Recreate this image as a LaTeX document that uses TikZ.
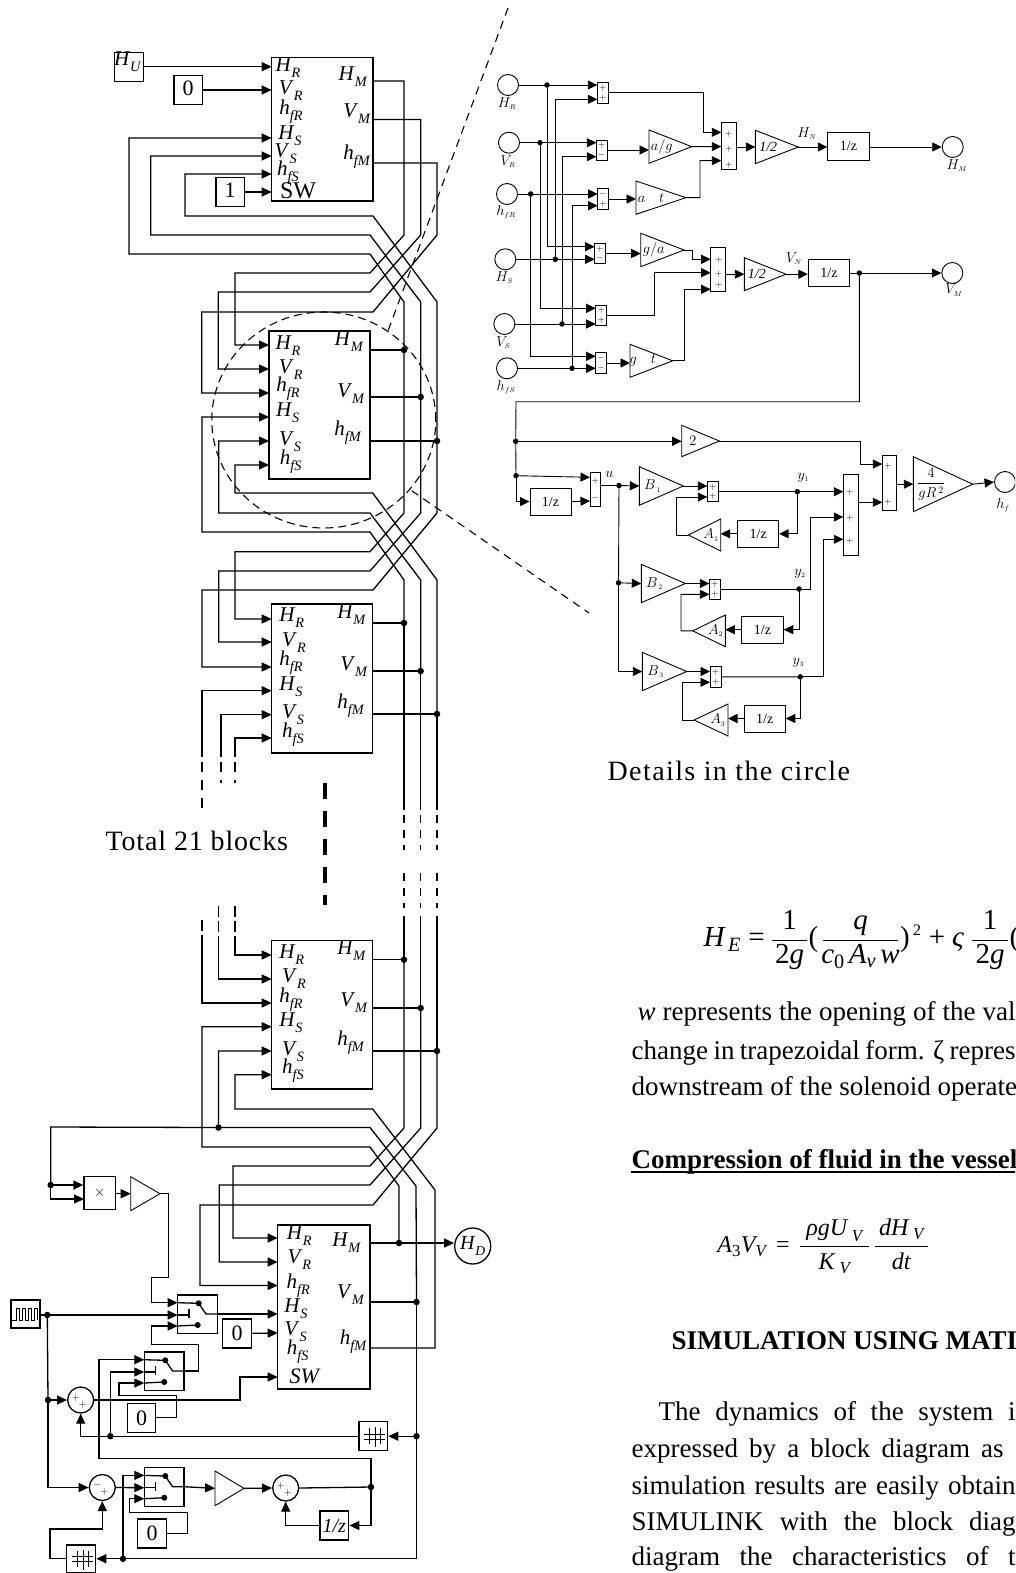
\documentclass[tikz,border=0pt]{standalone}
\usepackage{amsmath}
\usepackage[no-math]{fontspec}
\setmainfont{Liberation Serif}
\usetikzlibrary{arrows.meta,calc,shapes.geometric}
% port labels of the large blocks
\newcommand{\pv}[2]{\textit{#1}\raisebox{-.28em}{\scalebox{.68}{\textit{#2}}}}
\newcommand{\labhr}{\pv{H}{R}}
\newcommand{\labvr}{\pv{V}{R}}
\newcommand{\labhfr}{\pv{h}{fR}}
\newcommand{\labhs}{\pv{H}{S}}
\newcommand{\labvs}{\pv{V}{S}}
\newcommand{\labhfs}{\pv{h}{fS}}
\newcommand{\labhm}{\pv{H}{M}}
\newcommand{\labvm}{\pv{V}{M}}
\newcommand{\labhfm}{\pv{h}{fM}}
\newcommand{\ssub}[2]{$#1_{\scriptscriptstyle #2}$}
\newcommand{\fb}[3]{$\dfrac{\makebox[#1pt]{#2}}{\makebox[#1pt]{#3}}$}
\newcommand{\bx}[6]{\node[blk,minimum width={(#4-#2)*1pt},minimum height={(#5-#3)*1pt}] (#1) at ({(#2+#4)/2},{(#3+#5)/2}) {#6};}
\newcommand{\ports}[3]{\foreach \n/\py in {#3}{\coordinate (#1\n) at (#2,\py);}}
\newcommand{\blocklabels}[2]{\foreach \n/\px/\py in {#2}{\node[blab] (#1l\n) at (\px,\py) {\csname lab\n\endcsname};}}
% triangle gain: base x, apex x, top y, bottom y
\newcommand{\gain}[6]{\draw[dblk] (#2,#4) -- (#3,{(#4+#5)/2}) coordinate (#1-o) -- (#2,#5) -- cycle;
  \coordinate (#1-i) at (#2,{(#4+#5)/2});
  \node[dlab] (#1-t) at ({#2+.3*(#3-#2)},{(#4+#5)/2}) {#6};}
% narrow summing block with two inputs
\newcommand{\tsum}[9]{\node[dblk,minimum width={(#4-#2)*1pt},minimum height={(#5-#3)*1pt}] (#1) at ({(#2+#4)/2},{(#3+#5)/2}) {};
  \coordinate (#1-u) at (#2,#6); \coordinate (#1-d) at (#2,#7);
  \coordinate (#1-o) at (#4,{(#3+#5)/2});
  \node[sgn] (#1-su) at ({(#2+#4)/2},{#3+.27*(#5-#3)}) {$#8$};
  \node[sgn] (#1-sd) at ({(#2+#4)/2},{#3+.75*(#5-#3)}) {$#9$};}
% switch block
\newcommand{\swbox}[3]{\bx{#1}{#2}{#3}{#2+39.8}{#3+38.6}{}
  \coordinate (#1-a) at (#2,#3+7.7); \coordinate (#1-b) at (#2,#3+20); \coordinate (#1-c) at (#2,#3+31);
  \coordinate (#1-o) at (#2+39.8,#3+19);
  \node[dot,minimum size=6pt] (#1-p) at (#2+21,#3+8.3) {};
  \node[dot,minimum size=6pt] (#1-q) at (#2+20,#3+30) {};
  \coordinate (#1-r) at (#2+28.3,#3+19); \coordinate (#1-m) at (#2+11.3,#3+20);
  \coordinate (#1-n) at (#2+11.3,#3+14); \coordinate (#1-k) at (#2+11.3,#3+23);
  \draw (#1-a) -- (#1-p.center) -- (#1-r) -- (#1-o);
  \draw (#1-b) -- (#1-m); \draw (#1-n) -- (#1-k);
  \draw (#1-c) -- (#1-q.center);}
% round adder
\newcommand{\scirc}[5]{\node[blk,circle,minimum size=26pt] (#1) at (#2,#3) {};
  \node[sgn,font=\fontsize{10}{10}\selectfont] (#1-su) at (#2-5,#3-2.5) {$#4$};
  \node[sgn,font=\fontsize{10}{10}\selectfont] (#1-sd) at (#2+2,#3+4.5) {$#5$};}
\newcommand{\memgrid}[1]{\draw[line width=.8pt] ([shift={(-9,-2)}]#1.center) -- ([shift={(12,-2)}]#1.center);
  \draw[line width=.8pt] ([shift={(-9,3)}]#1.center) -- ([shift={(12,3)}]#1.center);
  \draw[line width=.8pt] ([shift={(-4,-8)}]#1.center) -- ([shift={(-4,8)}]#1.center);
  \draw[line width=.8pt] ([shift={(2,-9)}]#1.center) -- ([shift={(2,11)}]#1.center);
  \draw[line width=.8pt] ([shift={(7,-8)}]#1.center) -- ([shift={(7,8)}]#1.center);}
\begin{document}
\begin{tikzpicture}[x=1pt,y=-1pt,line width=1.3pt,
    sig/.style={-{Triangle[length=10pt,width=9pt]},line width=1.3pt},
    dsig/.style={-{Triangle[length=9.5pt,width=9pt]},line width=.9pt},
    dwire/.style={line width=.9pt},
    blk/.style={draw,inner sep=0pt,line width=1.3pt,font=\fontsize{22}{22}\selectfont},
    dblk/.style={draw,inner sep=0pt,line width=.9pt},
    dot/.style={circle,fill=black,inner sep=0pt,minimum size=6.5pt},
    ddot/.style={circle,fill=black,inner sep=0pt,minimum size=5.5pt},
    brk/.style={dash pattern=on 8pt off 7pt},
    zoomline/.style={dash pattern=on 8pt off 6pt,line width=1.1pt},
    blab/.style={inner sep=0pt,font=\fontsize{21}{21}\selectfont},
    dlab/.style={inner sep=0pt,font=\fontsize{14}{14}\selectfont},
    zlab/.style={dlab},
    sgn/.style={inner sep=0pt,font=\fontsize{9}{9}\selectfont},
    io/.style={draw,circle,inner sep=0pt,minimum size=21pt,line width=.9pt},
    body/.style={anchor=base west,inner sep=0pt,font=\fontsize{27}{30}\selectfont},
    captext/.style={anchor=west,inner sep=0pt,font=\fontsize{28}{30}\selectfont},
    eqp/.style={anchor=base,inner sep=0pt,font=\fontsize{29}{32}\selectfont},
    eqq/.style={anchor=base,inner sep=0pt,font=\fontsize{24}{26}\selectfont}]
  \useasboundingbox (0,0) rectangle (1015,1573);
  \clip (0,0) rectangle (1015,1573);

  % large blocks
  \bx{b1}{271.7}{57.7}{373}{201}{}
  \bx{b2}{269}{331}{370}{479}{}
  \bx{b3}{271.7}{604}{372.7}{753}{}
  \bx{b4}{271.7}{940.7}{372.7}{1089}{}
  \bx{b5}{277.7}{1225}{370}{1389}{}
  \ports{b1}{271.7}{hr/66.7,vr/90,hs/138,vs/156,hfs/174,sw/192}
  \ports{b1}{373}{hm/81,vm/119.5,hfm/163}
  \ports{b2}{269}{hr/345,vr/369,hfr/393,hs/417,vs/441,hfs/465}
  \ports{b2}{370}{hm/350,vm/397,hfm/441}
  \ports{b3}{271.7}{hr/619,vr/642,hfr/667,hs/690.7,vs/714.7,hfs/738}
  \ports{b3}{372.7}{hm/623,vm/671,hfm/714}
  \ports{b4}{271.7}{hr/955,vr/979,hfr/1003,hs/1026.7,vs/1051,hfs/1074.7}
  \ports{b4}{372.7}{hm/959.7,vm/1008,hfm/1051}
  \ports{b5}{277.7}{hr/1238,vr/1262,hfr/1285.5,hs/1314,vs/1333,sw/1377}
  \ports{b5}{370}{hm/1243,vm/1302,hfm/1348}
  \blocklabels{b1}{hr/288/68,vr/290.7/90.7,hfr/291/112,hs/290/136,vs/285.7/153.5,hfs/288/172.5,hm/353/77,vm/357/114,hfm/357/156.7}
  \blocklabels{b2}{hr/288/346,vr/290.7/370,hfr/288/389,hs/287.7/412.7,vs/290/441.7,hfs/290.7/461.7,hm/349/341.7,vm/351/394,hfm/348/432.7}
  \blocklabels{b3}{hr/291.7/618,vr/294/642.7,hfr/291/662.7,hs/291/687,vs/293/715,hfs/293/735,hm/351.7/615,vm/354/666.7,hfm/351/706}
  \blocklabels{b4}{hr/291.7/955,vr/294/979,hfr/291/999.3,hs/291/1022.7,vs/293/1051.7,hfs/293/1070.7,hm/351.7/951,vm/354/1002.7,hfm/351/1042.7}
  \blocklabels{b5}{hr/299.3/1235.7,vr/299.3/1260,hfr/298.3/1285.7,hs/296/1308.3,vs/295.7/1331.7,hfs/297.7/1351.7,hm/346.7/1242.7,vm/350.7/1295,hfm/353.3/1341.7}
  \node[inner sep=0pt,font=\fontsize{24}{24}\selectfont] (b1lsw) at (298,190.7) {SW};
  \node[blab,font=\fontsize{22}{22}\selectfont\itshape] (b5lsw) at (304.3,1376) {SW};

  % sources of the first block
  \bx{hu}{114.7}{52.2}{143.3}{81.2}{}
  \node[blab] (hut) at (127.7,61.7) {\pv{H}{U}};
  \bx{zero0}{174}{75.5}{202.3}{104.5}{\raisebox{3pt}{0}}
  \bx{one}{216}{177.5}{244.3}{206.5}{\raisebox{3pt}{1}}
  \draw[sig] (hu) -- (b1hr);
  \draw[sig] (zero0) -- (b1vr);
  \draw[sig] (one) -- (b1sw);

  % dots on the three buses
  \foreach \b/\a/\c/\d in {2/350/397/441,3/623/671/714,4/959.7/1008/1051}{
    \node[dot] (d\b hm) at (404,\a) {};
    \node[dot] (d\b vm) at (420.7,\c) {};
    \node[dot] (d\b hfm) at (437,\d) {};
    \draw (b\b hm) -- (d\b hm.center);
    \draw (b\b vm) -- (d\b vm.center);
    \draw (b\b hfm) -- (d\b hfm.center);
  }
  % first block to second
  \draw[sig] (b1hm) -| (404,235) -- (370,273) -- (235,273) |- (b2hr);
  \draw[sig] (b1vm) -| (420.7,235) -- (370,292) -- (218.3,292) |- (b2vr);
  \draw[sig] (b1hfm) -| (437,235) -- (373,312) -- (201.7,312) |- (b2hfr);
  \draw[sig] (d2hm.center) -- (404,302) -- (370,254) -- (129,254) |- (b1hs);
  \draw[sig] (d2vm.center) -- (420.7,302) -- (370,235) -- (150.7,235) |- (b1vs);
  \draw[sig] (d2hfm.center) -- (437,302) -- (373,216) -- (185,216) |- (b1hfs);
  % second block to third
  \draw[sig] (d2hm.center) -- (404,513) -- (370,551.7) -- (235,551.7) |- (b3hr);
  \draw[sig] (d2vm.center) -- (420.7,513) -- (370,571) -- (218.7,571) |- (b3vr);
  \draw[sig] (d2hfm.center) -- (437,513) -- (373,590) -- (202,590) |- (b3hfr);
  \draw[sig] (d3hm.center) -- (404,580) -- (370,532) -- (202,532) |- (b2hs);
  \draw[sig] (d3vm.center) -- (420.7,580) -- (370,513) -- (218.7,513) |- (b2vs);
  \draw[sig] (d3hfm.center) -- (437,580) -- (372.7,493) -- (235,493) |- (b2hfs);
  % the break between the third and fourth block
  \foreach \n/\x in {hm/404,vm/420.7,hfm/437}{
    \coordinate (e\n) at (\x,810); \coordinate (f\n) at (\x,815);
    \coordinate (g\n) at (\x,850); \coordinate (k\n) at (\x,873);
    \coordinate (l\n) at (\x,908); \coordinate (m\n) at (\x,916);
    \draw (d3\n.center) -- (e\n);
    \draw[brk] (f\n) -- (g\n);
    \draw[brk] (k\n) -- (l\n);
    \draw (m\n) -- (d4\n.center);
  }
  \foreach \n/\x/\ya/\yb in {hs/202/757/812,vs/221/757/783,hfs/235/757/783}{
    \coordinate (u\n) at (\x,\ya); \coordinate (w\n) at (\x,\ya+5); \coordinate (t\n) at (\x,\yb);
    \draw[sig] (u\n) |- (b3\n);
    \draw[dash pattern=on 10pt off 8pt] (w\n) -- (t\n);
  }
  \foreach \n/\x/\ya/\yb in {hr/235/906/945,vr/218.7/906/945,hfr/202/920/945}{
    \coordinate (u\n) at (\x,\yb); \coordinate (t\n) at (\x,\ya);
    \draw[sig] (u\n) |- (b4\n);
    \draw[dash pattern=on 11pt off 4pt] (t\n) -- (u\n);
  }
  \coordinate (tot1) at (325,783);
  \coordinate (tot2) at (325,905);
  \draw[dash pattern=on 16pt off 12pt,line width=3.2pt] (tot1) -- (tot2);
  \node[captext] (totlab) at (105,840.5) {\addfontfeature{LetterSpace=3}Total 21 blocks};

  % fourth block to the last one
  \node[dot] (dvs) at (218.5,1127.5) {};
  \node[dot] (d5hm) at (399,1243) {};
  \node[dot] (d5vm) at (416.5,1302) {};
  \draw[sig] (d4hm.center) -- (404,1128) -- (370,1166) -- (233,1166) |- (b5hr);
  \draw[sig] (d4vm.center) -- (420.7,1128) -- (370,1185) -- (219.3,1185) |- (b5vr);
  \draw[sig] (d4hfm.center) -- (437,1128) -- (373,1205) -- (200,1205) |- (b5hfr);
  \draw[sig] (d5hm.center) -- (399,1186) -- (370,1147) -- (202,1147) |- (b4hs);
  \draw[sig] (d5vm.center) -- (416,1186) -- (370,1127.5) -- (dvs.center) |- (b4vs);
  \draw[sig] (b5hfm) -- (435,1348) -- (435,1190) -- (372.7,1109) -- (235,1109) |- (b4hfs);
  \draw (b5vm) -- (d5vm.center);
  \draw (b5hm) -- (d5hm.center);
  \node[blk,circle,minimum size=36pt] (hd) at (472.7,1246) {\fontsize{20}{20}\selectfont\pv{H}{D}};
  \draw[sig] (d5hm.center) -- (hd.west |- d5hm);

  % control logic under the last block
  \node[dot] (dprod) at (50.7,1185) {};
  \bx{prod}{84}{1176.7}{115.3}{1209.3}{\fontsize{15}{15}\selectfont$\times$}
  \gain{gprod}{130.7}{160}{1176.7}{1210.7}{}
  \draw (dvs.center) -- (50.7,1127) -- (dprod.center);
  \draw[sig] (dprod.center) -- (prod.west |- dprod);
  \draw[sig] (dprod.center) |- (84,1199);
  \draw[sig] (prod.east |- gprod-i) -- (gprod-i);
  \swbox{sw1}{177.7}{1295}
  \swbox{sw2}{144.3}{1352}
  \swbox{sw3}{144.3}{1467.7}
  \draw[sig] (gprod-o) -- (168.3,1193.7) -- (168.3,1277.7) -- (151.7,1277.7) |- (sw1-a);
  \draw[sig] (sw1-o) -- (b5hs);
  \bx{zero1}{222.7}{1319}{251.7}{1348}{0}
  \draw[sig] (zero1) -- (b5vs);
  % pulse source
  \bx{pulse}{11}{1300}{40}{1328}{}
  \draw[line width=.9pt] (12,1320) -- (16,1320) -- (16,1308) -- (19,1308) -- (19,1320) -- (22,1320) -- (22,1308) -- (25,1308) -- (25,1320) -- (28,1320) -- (28,1308) -- (31,1308) -- (31,1320) -- (34,1320) -- (34,1308) -- (37,1308) -- (37,1320);
  \node[dot] (dpulse) at (47.3,1315) {};
  \node[dot] (dsum) at (48,1400) {};
  \draw (pulse.east |- dpulse) -- (dpulse.center);
  \draw[sig] (dpulse.center) -- (sw1-b);
  \draw (dpulse.center) -- (dsum.center);
  \scirc{s1}{80.7}{1400}{+}{+}
  \scirc{s2}{102.3}{1487.5}{-}{+}
  \scirc{s3}{285.7}{1488}{+}{+}
  \draw[sig] (dsum.center) -- (s1.west);
  \draw[sig] (dsum.center) |- (s2.west);
  \draw[sig] (s1.east) -- (240,1400) |- (b5sw);
  % memory blocks
  \bx{mem1}{359}{1421.7}{387.7}{1450.7}{}
  \memgrid{mem1}
  \bx{mem2}{66.7}{1545}{95.7}{1572.5}{}
  \memgrid{mem2}
  \node[dot] (dmem1) at (416.5,1436.2) {};
  \node[dot] (dback) at (110.3,1436.2) {};
  \node[dot] (dmem2) at (123,1558.8) {};
  \draw[sig] (dmem1.center) -- (mem1.east);
  \draw (mem1.west) -- (dback.center);
  \draw[sig] (dback.center) -| (s1.south);
  \draw[sig] (dback.center) |- (sw2-b);
  \draw[sig] (d5vm.center) |- (mem2.east);
  \draw[sig] (mem2.west) -| (50,1529) -| (s2.south);
  \draw[sig] (dmem2.center) |- (sw3-a);
  \draw[sig] (s2.east) -- (sw3-b);
  \draw[sig] (sw2-o) -- (198.3,1371) -- (198.3,1344.3) -- (151.7,1344.3) |- (sw1-c);
  \bx{zero2}{127.3}{1403.3}{155.7}{1432.3}{0}
  \draw[sig] (zero2) -- (176.7,1417.8) -- (176.7,1395.7) -- (119,1395.7) |- (sw2-c);
  \bx{zero3}{137.7}{1519}{166.7}{1548}{0}
  \draw[sig] (zero3) -- (187.3,1533.5) -- (187.3,1512.7) -- (129.3,1512.7) |- (sw3-c);
  \gain{gint}{215}{244}{1471}{1505.7}{}
  \draw[sig] (sw3-o) -- (gint-i);
  \draw[sig] (gint-o) -- (s3.west);
  \node[dot] (dout) at (371,1487) {};
  \draw (s3.east) -- (dout.center);
  \draw[sig] (dout.center) -- (371,1458.3) -- (99,1458.3) |- (sw2-a);
  \bx{intz}{320}{1511}{348.7}{1540}{\fontsize{20}{20}\selectfont\textit{1/z}}
  \draw[sig] (dout.center) |- (intz.east);
  \draw[sig] (intz.west) -| (s3.south);

  % zoom marks
  \node[draw,ellipse,dash pattern=on 8pt off 5pt,line width=1.1pt,minimum width=224pt,minimum height=216pt,inner sep=0pt] (zoomc) at (323.8,420) {};
  \coordinate (ztop) at (388,331);
  \coordinate (zup) at (508,8);
  \coordinate (zbot) at (411.7,490.7);
  \coordinate (zlow) at (589,613);
  \draw[zoomline] (zup) -- (ztop);
  \draw[zoomline] (zbot) -- (zlow);

  % detail, top half
  \foreach \n/\x/\y/\t/\ty in {ihr/508/85/H/R,ivr/509/142.7/V/R,ihfr/507/194/h/fR,ihs/505.3/259.3/H/S,ivs/504.3/324/V/S,ihfs/507/368.3/h/fS}{
    \node[io] (\n) at (\x,\y) {};
    \node[dlab] (\n t) at (\x-1,\y+18.5) {\ssub{\t}{\ty}};
  }
  \tsum{S1}{597.3}{82.3}{608.3}{103.3}{85}{99.3}{+}{+}
  \tsum{S2}{596.3}{140}{607}{160}{142.7}{156.7}{+}{-}
  \tsum{S3}{597.7}{188.7}{608.3}{209.3}{194}{205.7}{-}{+}
  \tsum{S4}{594.7}{243.3}{605.3}{263.7}{246.7}{259.3}{+}{-}
  \tsum{S5}{595.7}{305}{606.7}{325}{308.3}{324}{+}{+}
  \tsum{S6}{595.7}{352.7}{606.3}{373.3}{356.3}{368.3}{-}{-}
  \foreach \n/\x/\y in {dhr/547/85,dvr/540/142.7,dhfr/530.7/194,dhs/555.3/259.3,dvs2/562/324,dhfs/572/368.3}{
    \node[ddot] (\n) at (\x,\y) {};
  }
  \draw[dwire] (ihr) -- (dhr.center); \draw[dsig] (dhr.center) -- (S1-u);
  \draw[dwire] (ivr) -- (dvr.center); \draw[dsig] (dvr.center) -- (S2-u);
  \draw[dwire] (ihfr) -- (dhfr.center); \draw[dsig] (dhfr.center) -- (S3-u);
  \draw[dwire] (ihs) -- (dhs.center); \draw[dsig] (dhs.center) -- (S4-d);
  \draw[dwire] (ivs) -- (dvs2.center); \draw[dsig] (dvs2.center) -- (S5-d);
  \draw[dwire] (ihfs) -- (dhfs.center); \draw[dsig] (dhfs.center) -- (S6-d);
  \draw[dsig] (dhr.center) |- (S4-u);
  \draw[dsig] (dvr.center) |- (S5-u);
  \draw[dsig] (dhfr.center) |- (S6-u);
  \draw[dsig] (dhs.center) |- (S1-d);
  \draw[dsig] (dvs2.center) |- (S2-d);
  \draw[dsig] (dhfs.center) |- (S3-d);
  \gain{gag}{649}{691.7}{130}{163.3}{$a/g$}
  \gain{gat}{636}{686}{181}{214.3}{$a\quad t$}
  \gain{gga}{640.7}{684}{233.3}{266.7}{$g/a$}
  \gain{ggt}{630}{672.7}{344.3}{377.3}{$g\quad t$}
  \draw[dsig] (S2-o) -- (gag-i |- S2-o);
  \draw[dsig] (S3-o) -- (gat-i |- S3-o);
  \draw[dsig] (S4-o) -- (gga-i |- S4-o);
  \draw[dsig] (S6-o) -- (ggt-i |- S6-o);
  % first adder, hn
  \node[dblk,minimum width=14.7pt,minimum height=47.3pt] (sumh) at (728.6,146.3) {};
  \foreach \i/\y in {1/134,2/149,3/165.5}{\node[sgn] (sumhs\i) at (728.6,\y) {$+$};}
  \draw[dsig] (S1-o) -- (703.3,92.8) |- (721.3,132.3);
  \draw[dsig] (gag-o) -- (721.3,146.6);
  \draw[dsig] (gat-o) -- (700,197.6) |- (721.3,160.7);
  \gain{ghn}{755.3}{798.3}{130.3}{163.7}{\textit{1/2}}
  \draw[dsig] (sumh.east |- ghn-i) -- (ghn-i);
  \node[dblk,minimum width=41.3pt,minimum height=27.7pt] (zh) at (848.4,146.2) {};
  \node[zlab] (zht) at (zh.center) {1/z};
  \draw[dsig] (ghn-o) -- (zh.west |- ghn-o);
  \node[io] (ohm) at (952.7,147) {};
  \draw[dsig] (zh.east |- ohm) -- (ohm.west);
  \node[dlab] (hnlab) at (807,133.3) {\ssub{H}{N}};
  \node[dlab] (ohmlab) at (957,166) {\ssub{H}{M}};
  % second adder, vn
  \node[dblk,minimum width=15pt,minimum height=44pt] (sumv) at (718.2,269.3) {};
  \foreach \i/\y in {1/260,2/274,3/285}{\node[sgn] (sumvs\i) at (718.5,\y) {$+$};}
  \draw[dsig] (gga-o) -- (692.7,250) -- (692.7,259.3) -- (710.7,259.3);
  \draw[dsig] (S5-o) -- (654,315) |- (710.7,272.7);
  \draw[dsig] (ggt-o) -- (684.3,360.8) |- (710.7,289.3);
  \gain{gvn}{744.3}{786}{257.7}{290.7}{\textit{1/2}}
  \draw[dsig] (sumv.east |- gvn-i) -- (gvn-i);
  \node[dblk,minimum width=41.4pt,minimum height=27pt] (zv) at (829,272.8) {};
  \node[zlab] (zvt) at (zv.center) {1/z};
  \draw[dsig] (gvn-o) -- (zv.west |- gvn-o);
  \node[ddot] (dvn) at (859.3,273) {};
  \node[io] (ovm) at (952.3,273) {};
  \draw[dwire] (zv.east |- dvn) -- (dvn.center);
  \draw[dsig] (dvn.center) -- (ovm.west);
  \node[dlab] (vnlab) at (794,258.3) {\ssub{V}{N}};
  \node[dlab] (ovmlab) at (954,290) {\ssub{V}{M}};

  % detail, lower half
  \node[ddot] (dtwo) at (515.7,441.3) {};
  \node[ddot] (ddel) at (516,475.7) {};
  \draw[dwire] (dvn.center) -- (859.3,401.7) -- (516,401.7) -- (dtwo.center) -- (ddel.center);
  \gain{gtwo}{681.7}{719.3}{425.3}{456.7}{$2$}
  \draw[dsig] (dtwo.center) -- (gtwo-i |- dtwo);
  \tsum{S8}{590}{472}{600.3}{506.7}{477.3}{501}{+}{-}
  \node[dblk,minimum width=41pt,minimum height=26.7pt] (zu) at (550.5,501.6) {};
  \node[zlab] (zut) at (zu.center) {1/z};
  \draw[dsig] (ddel.center) -- (S8-u);
  \draw[dsig] (ddel.center) |- (zu.west);
  \draw[dsig] (zu.east) -- (S8-d);
  \node[dlab] (ulab) at (609.3,474) {$u$};
  \node[ddot] (du) at (619,485.5) {};
  \node[ddot] (du2) at (618.5,582.8) {};
  \draw[dwire] (S8.east |- du) -- (du.center);
  \draw[dwire] (du.center) -- (du2.center);
  \gain{gb1}{639.3}{683.3}{466.7}{505.3}{\ssub{B}{\,1}}
  \gain{gb2}{641.3}{685.3}{564.3}{602.7}{\ssub{B}{\,2}}
  \gain{gb3}{642.3}{686.7}{652.3}{690.7}{\ssub{B}{\,3}}
  \draw[dsig] (du.center) -- (gb1-i);
  \draw[dsig] (du2.center) -- (gb2-i);
  \draw[dsig] (du2.center) |- (gb3-i);
  \tsum{T1}{707.3}{481.7}{718.3}{501.7}{486}{497}{+}{+}
  \tsum{T2}{709.3}{579}{720.3}{599}{583.5}{594.3}{+}{+}
  \tsum{T3}{710}{666.7}{721}{687}{671.5}{682.3}{+}{+}
  \draw[dsig] (gb1-o) -- (T1-u);
  \draw[dsig] (gb2-o) -- (T2-u);
  \draw[dsig] (gb3-o) -- (T3-u);
  \node[ddot] (dy1) at (797.3,491.7) {};
  \node[ddot] (dy2) at (799,589) {};
  \node[ddot] (dy3) at (800.3,676.8) {};
  \draw[dwire] (T1-o) -- (dy1.center);
  \draw[dwire] (T2-o) -- (dy2.center);
  \draw[dwire] (T3-o) -- (dy3.center);
  \node[dblk,minimum width=41pt,minimum height=27pt] (z1) at (758.2,533.8) {};
  \node[dblk,minimum width=41.6pt,minimum height=27.3pt] (z2) at (762.5,629.7) {};
  \node[dblk,minimum width=41.3pt,minimum height=27pt] (z3) at (764.7,718.5) {};
  \foreach \i in {1,2,3}{\node[zlab] (z\i t) at (z\i.center) {1/z};}
  \gain{ga1}{720.7}{688.3}{519}{551}{\ssub{A}{1}}
  \gain{ga2}{725.3}{692.7}{615}{646.7}{\ssub{A}{2}}
  \gain{ga3}{728}{694}{704}{736}{\ssub{A}{3}}
  \draw[dsig] (dy1.center) |- (z1.east);
  \draw[dsig] (dy2.center) |- (z2.east);
  \draw[dsig] (dy3.center) |- (z3.east);
  \draw[dsig] (z1.west) -- (ga1-i |- z1);
  \draw[dsig] (z2.west) -- (ga2-i |- z2);
  \draw[dsig] (z3.west) -- (ga3-i |- z3);
  \draw[dsig] (ga1-o) -- (676,535) |- (T1-d);
  \draw[dsig] (ga2-o) -- (681,630.8) |- (T2-d);
  \draw[dsig] (ga3-o) -- (682.3,720) |- (T3-d);
  \node[dlab] (y1lab) at (803.3,477.7) {\ssub{y}{1}};
  \node[dlab] (y2lab) at (800,574) {\ssub{y}{2}};
  \node[dlab] (y3lab) at (798.3,662.7) {\ssub{y}{3}};
  \node[dblk,minimum width=14.7pt,minimum height=81pt] (sumc) at (850.6,514.5) {};
  \foreach \i/\y in {1/492.7,2/518.3,3/541}{\node[sgn] (sumcs\i) at (850,\y) {$+$};}
  \draw[dsig] (dy1.center) -- (843.3,491.7);
  \draw[dsig] (dy2.center) -- (810,589) |- (843.3,517);
  \draw[dsig] (dy3.center) -- (823.3,676.8) |- (843.3,539.3);
  \node[dblk,minimum width=14.4pt,minimum height=55pt] (sumd) at (889.5,482.5) {};
  \foreach \i/\y in {1/466.5,2/502.5}{\node[sgn] (sumds\i) at (888,\y) {$+$};}
  \draw[dsig] (gtwo-o) -- (860,441) |- (882.3,464);
  \draw[dsig] (sumc.east |- 0,502.3) -- (882.3,502.3);
  \gain{gfour}{913.3}{972.7}{456.7}{511.7}{$\dfrac{4}{gR^{\,2}}$}
  \draw[dsig] (sumd.east |- gfour-i) -- (gfour-i);
  \node[io] (ohf) at (1005,482) {};
  \draw[dsig] (gfour-o) -- (ohf.west);
  \node[dlab] (ohflab) at (1003,505) {\ssub{h}{f}};

  % text on the page
  \node[captext] (detcap) at (607,771) {\addfontfeature{LetterSpace=5}Details in the circle};
  \node[eqp,anchor=base west] (eqh) at (703,946.6) {$\textit{H}_{\,\textit{E}}$};
  \node[eqp] (eqe) at (756.5,946.6) {=};
  \node[eqp] (eqf1) at (789.5,946.6) {\fb{35}{1}{2\textit{g}}};
  \node[eqp] (eql1) at (813.5,946.6) {(};
  \node[eqp] (eqf2) at (860.5,946.6) {\fb{75}{\textit{q}}{$\textit{c}_{\textrm{0}}\,\textit{A}_{\textit{v}}\,\textit{w}$}};
  \node[eqp] (eqr1) at (905,946.6) {)};
  \node[eqp,font=\fontsize{16}{16}\selectfont] (eqs) at (917,935) {2};
  \node[eqp] (eqp1) at (937,946.6) {+};
  \node[eqp] (eqz) at (958,946.6) {\textit{ς}};
  \node[eqp] (eqf3) at (990,946.6) {\fb{36}{1}{2\textit{g}}};
  \node[eqp,anchor=base west] (eql2) at (1009,946.6) {\makebox[6pt][l]{(}};
  \node[body] (tx1) at (637,1020.7) {\makebox[378pt][s]{\textit{w} represents the opening of the val}};
  \node[body] (tx2) at (631,1059.3) {\makebox[384pt][s]{change in trapezoidal form. ζ repres}};
  \node[body] (tx3) at (631,1095) {\makebox[384pt][l]{downstream of the solenoid operated}};
  \node[body,font=\fontsize{27}{30}\selectfont\bfseries] (comp) at (631,1168) {Compression of fluid in the vessel};
  \draw[line width=2pt] ($(comp.base west)+(0,3.5)$) -- ($(comp.base east)+(0,3.5)$);
  \node[eqq,anchor=base west] (eqa) at (716.7,1252.7) {$\textit{A}_{\textrm{3}}\textit{V}_{\textit{V}}$};
  \node[eqq] (eqb) at (783,1252.7) {=};
  \node[eqq] (eqf4) at (834.5,1252.7) {\fb{69}{$\textit{ρgU}_{\;\textit{V}}$}{$\textit{K}_{\;\textit{V}}$}};
  \node[eqq] (eqf5) at (901.5,1252.7) {\fb{53}{$\textit{dH}_{\;\textit{V}}$}{\textit{dt}}};
  \node[body,font=\fontsize{27}{30}\selectfont\bfseries] (simt) at (671,1349.3) {SIMULATION USING MATI};
  \node[body] (tx4) at (658,1420) {\makebox[357pt][s]{The dynamics of the system i}};
  \node[body] (tx5) at (631,1457) {\makebox[372pt][s]{expressed by a block diagram as}};
  \node[body] (tx6) at (631,1494) {\makebox[384pt][s]{simulation results are easily obtain}};
  \node[body] (tx7) at (631,1530) {\makebox[384pt][s]{SIMULINK with the block diag}};
  \node[body] (tx8) at (631,1565) {\makebox[384pt][s]{diagram the characteristics of t}};
\end{tikzpicture}
\end{document}
